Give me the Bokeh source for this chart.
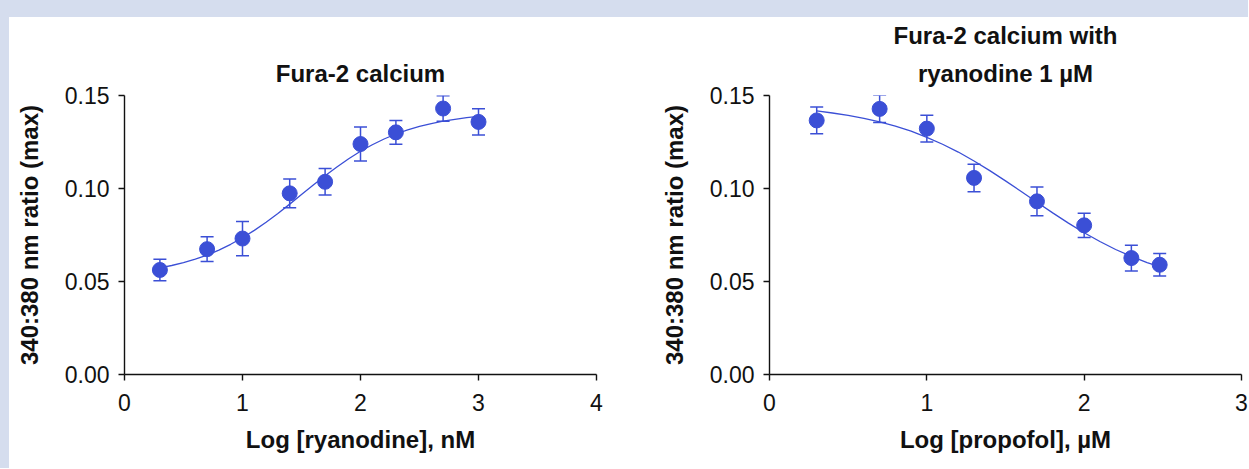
from bokeh.plotting import figure
from bokeh.models import Range1d, FixedTicker, Whisker, TeeHead, ColumnDataSource, Title, Div
from bokeh.layouts import row, column
from bokeh.embed import file_html
from bokeh.resources import INLINE

# ---- data ----
ryan_x = [0.3, 0.7, 1.0, 1.4, 1.7, 2.0, 2.3, 2.7, 3.0]
ryan_y = [0.0562, 0.0674, 0.0731, 0.0974, 0.1036, 0.1239, 0.1302, 0.1430, 0.1358]
ryan_err = [0.0058, 0.0066, 0.0092, 0.0077, 0.0071, 0.0091, 0.0064, 0.0068, 0.0071]

ryan_fit_x = [0.3, 0.4, 0.5, 0.6, 0.7, 0.8, 0.9, 1.0, 1.1, 1.2, 1.3, 1.4, 1.5, 1.6,
              1.7, 1.8, 1.9, 2.0, 2.1, 2.2, 2.3, 2.4, 2.5, 2.6, 2.7, 2.8, 2.9, 3.0]
ryan_fit_y = [0.0573, 0.0586, 0.0601, 0.0620, 0.0642, 0.0669, 0.0700, 0.0735, 0.0775,
              0.0819, 0.0866, 0.0916, 0.0968, 0.1019, 0.1069, 0.1116, 0.1160, 0.1200,
              0.1235, 0.1266, 0.1293, 0.1315, 0.1334, 0.1349, 0.1362, 0.1372, 0.1381, 0.1388]

prop_x = [0.3, 0.7, 1.0, 1.3, 1.7, 2.0, 2.3, 2.48]
prop_y = [0.1366, 0.1428, 0.1322, 0.1057, 0.0931, 0.0802, 0.0626, 0.0590]
prop_err = [0.0072, 0.0073, 0.0072, 0.0074, 0.0077, 0.0065, 0.0069, 0.0060]

prop_fit_x = [0.3, 0.4, 0.5, 0.6, 0.7, 0.8, 0.9, 1.0, 1.1, 1.2, 1.3, 1.4, 1.5, 1.6,
              1.7, 1.8, 1.9, 2.0, 2.1, 2.2, 2.3, 2.4, 2.48]
prop_fit_y = [0.1417, 0.1406, 0.1393, 0.1377, 0.1358, 0.1335, 0.1308, 0.1275, 0.1238,
              0.1196, 0.1148, 0.1096, 0.1041, 0.0984, 0.0926, 0.0869, 0.0814, 0.0762,
              0.0715, 0.0672, 0.0635, 0.0602, 0.0580]

y_ticks = [0.0, 0.05, 0.10, 0.15]
y_tick_labels = ["0.00", "0.05", "0.10", "0.15"]
left_x_ticks = [0, 1, 2, 3, 4]
right_x_ticks = [0, 1, 2, 3]

left_title = ["Fura-2 calcium"]
right_title = ["Fura-2 calcium with", "ryanodine 1 µM"]
y_label = "340:380 nm ratio (max)"
left_x_label = "Log [ryanodine], nM"
right_x_label = "Log [propofol], µM"

BLUE = "#3b4fd6"
BAND = "#d5ddee"
FONT = "Liberation Sans"
FIG_H = 451


def make_panel(xs, ys, errs, fx, fy, xmax, xticks, titles, xlabel, width, mbl, mbr):
    p = figure(width=width, height=FIG_H, output_backend="svg", toolbar_location=None,
               x_range=Range1d(0, xmax), y_range=Range1d(0, 0.15),
               min_border_left=mbl, min_border_right=mbr,
               min_border_top=78, min_border_bottom=94)
    p.outline_line_color = None
    p.grid.visible = False
    p.background_fill_color = "white"
    p.border_fill_color = "white"

    # titles (first added is closest to the plot)
    for i, t in enumerate(reversed(titles)):
        p.add_layout(Title(text=t, align="center", text_font=FONT, text_font_size="24px",
                           text_font_style="bold", text_color="#111111",
                           standoff=18 if i == 0 else 0), "above")

    src = ColumnDataSource(dict(x=xs, y=ys,
                                lo=[a - b for a, b in zip(ys, errs)],
                                hi=[a + b for a, b in zip(ys, errs)]))
    p.line(fx, fy, line_color=BLUE, line_width=1.3)
    w = Whisker(source=src, base="x", upper="hi", lower="lo", line_color=BLUE, line_width=1.5,
                upper_head=TeeHead(size=13, line_color=BLUE, line_width=1.5),
                lower_head=TeeHead(size=13, line_color=BLUE, line_width=1.5))
    p.add_layout(w)
    p.scatter("x", "y", source=src, size=15, fill_color=BLUE, line_color=BLUE)

    for ax in (p.xaxis[0], p.yaxis[0]):
        ax.axis_line_color = "#111111"
        ax.axis_line_width = 1.4
        ax.major_tick_line_color = "#111111"
        ax.major_tick_line_width = 1.4
        ax.major_tick_out = 6
        ax.major_tick_in = 0
        ax.minor_tick_line_color = None
        ax.major_label_text_font = FONT
        ax.major_label_text_font_size = "23px"
        ax.major_label_text_color = "#111111"
        ax.axis_label_text_font = FONT
        ax.axis_label_text_font_size = "24px"
        ax.axis_label_text_font_style = "bold"
        ax.axis_label_text_color = "#111111"

    p.xaxis.ticker = FixedTicker(ticks=xticks)
    p.xaxis.axis_label = xlabel
    p.xaxis.major_label_standoff = 13
    p.xaxis.axis_label_standoff = 12

    p.yaxis.ticker = FixedTicker(ticks=y_ticks)
    p.yaxis.major_label_overrides = {t: l for t, l in zip(y_ticks, y_tick_labels)}
    p.yaxis.axis_label = y_label
    p.yaxis.major_label_standoff = 9
    p.yaxis.axis_label_standoff = 19
    return p


p1 = make_panel(ryan_x, ryan_y, ryan_err, ryan_fit_x, ryan_fit_y, 4, left_x_ticks,
                left_title, left_x_label, 631, 115, 44)
p2 = make_panel(prop_x, prop_y, prop_err, prop_fit_x, prop_fit_y, 3, right_x_ticks,
                right_title, right_x_label, 608, 129, 7)

band = Div(text="", width=1248, height=17, margin=(0, 0, 0, 0),
           styles={"background-color": BAND})
strip = Div(text="", width=9, height=FIG_H, margin=(0, 0, 0, 0),
            styles={"background-color": BAND})
layout = column(band, row(strip, p1, p2, spacing=0), spacing=0)

open("out.html", "w").write(file_html(layout, INLINE))
